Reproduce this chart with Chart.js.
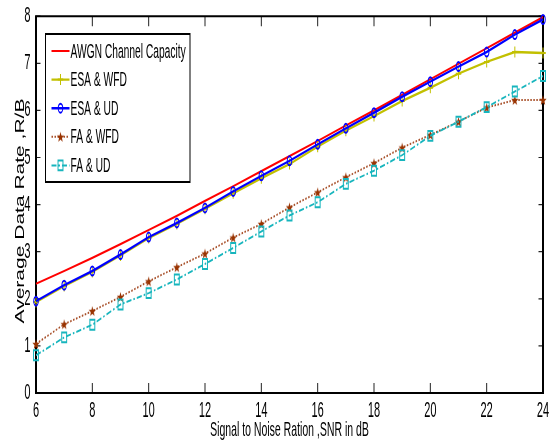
<!DOCTYPE html>
<html>
<head>
<meta charset="utf-8">
<title>Average Data Rate vs SNR</title>
<script src="https://cdn.jsdelivr.net/npm/chart.js@4.4.0/dist/chart.umd.min.js"></script>
<style>
  html, body { margin: 0; padding: 0; background: #fff; overflow: hidden; }
  #wrap { width: 557px; height: 445px; overflow: hidden; }
  /* the figure is drawn twice as wide and squeezed back, giving the narrow lettering */
  #chart { display: block; transform: scaleX(0.5); transform-origin: 0 0; }
</style>
</head>
<body>
<div id="wrap"><canvas id="chart" width="1114" height="445"></canvas></div>
<script>
  "use strict";

  const snrDb = [6, 7, 8, 9, 10, 11, 12, 13, 14, 15, 16, 17, 18, 19, 20, 21, 22, 23, 24];

  const awgnCapacity = [2.32, 2.59, 2.87, 3.16, 3.46, 3.76, 4.08, 4.39, 4.71, 5.03, 5.35, 5.68, 6.00, 6.33, 6.66, 6.99, 7.32, 7.65, 7.98];
  const esaWfd = [1.93, 2.27, 2.57, 2.92, 3.29, 3.59, 3.91, 4.24, 4.56, 4.86, 5.23, 5.57, 5.88, 6.20, 6.48, 6.78, 7.03, 7.24, 7.22];
  const esaUd = [1.95, 2.29, 2.59, 2.94, 3.31, 3.61, 3.93, 4.28, 4.61, 4.93, 5.28, 5.62, 5.95, 6.29, 6.61, 6.93, 7.24, 7.61, 7.93];
  const faWfd = [1.04, 1.46, 1.74, 2.04, 2.37, 2.67, 2.96, 3.30, 3.59, 3.94, 4.26, 4.58, 4.88, 5.21, 5.48, 5.76, 6.06, 6.22, 6.22];
  const faUd = [0.80, 1.18, 1.45, 1.88, 2.12, 2.41, 2.74, 3.08, 3.43, 3.77, 4.05, 4.44, 4.72, 5.05, 5.46, 5.76, 6.07, 6.40, 6.73];

  const seriesLabels = ["AWGN Channel Capacity", "ESA & WFD", "ESA & UD", "FA & WFD", "FA & UD"];
  const xTitle = "Signal to Noise Ration ,SNR in dB";
  const yTitle = "Average Data Rate ,R/B";

  const FONT = '"Liberation Sans", Arial, sans-serif';

  function pts(ys) {
    return snrDb.map((x, i) => ({ x, y: ys[i] }));
  }

  // filled five-pointed star used as the FA & WFD marker
  function starMarker(w, h, fill) {
    const c = document.createElement("canvas");
    c.width = w;
    c.height = h;
    const g = c.getContext("2d");
    const cx = w / 2, cy = h / 2 + 0.5;
    g.beginPath();
    for (let i = 0; i < 10; i++) {
      const k = i % 2 ? 0.42 : 1;
      const a = -Math.PI / 2 + (i * Math.PI) / 5;
      g.lineTo(cx + k * (w / 2 - 0.5) * Math.cos(a), cy + k * (h / 2 - 0.5) * Math.sin(a));
    }
    g.closePath();
    g.fillStyle = fill;
    g.fill();
    return c;
  }

  const NONE = "rgba(0,0,0,0)";

  const datasets = [
    {
      label: seriesLabels[0], data: pts(awgnCapacity), order: 5,
      borderColor: "#ff0000", borderWidth: 2.2, pointRadius: 0,
    },
    {
      label: seriesLabels[1], data: pts(esaWfd), order: 4,
      borderColor: "#c2c000", borderWidth: 2.4,
      pointStyle: "cross", pointRadius: 5.5, pointBorderWidth: 2,
      pointBorderColor: "#c2c000", pointBackgroundColor: NONE,
    },
    {
      label: seriesLabels[2], data: pts(esaUd), order: 3,
      borderColor: "#0000ff", borderWidth: 2.4,
      pointStyle: "circle", pointRadius: 4.5, pointBorderWidth: 2,
      pointBorderColor: "#0000ff", pointBackgroundColor: NONE,
    },
    {
      label: seriesLabels[3], data: pts(faWfd), order: 2,
      borderColor: "#a8502a", borderWidth: 2, borderDash: [3, 3],
      pointStyle: starMarker(16, 12, "#993300"), pointRadius: 6,
      pointBorderColor: "#993300", pointBackgroundColor: "#993300", pointBorderWidth: 0,
    },
    {
      label: seriesLabels[4], data: pts(faUd), order: 1,
      borderColor: "#17b5bd", borderWidth: 2, borderDash: [10, 4, 3, 4],
      pointStyle: "rect", pointRadius: 7, pointBorderWidth: 2,
      pointBorderColor: "#17b5bd", pointBackgroundColor: NONE,
    },
  ];

  // box frame with inward ticks on all four sides, plus the rotated y title
  const frame = {
    id: "frame",
    beforeDatasetsDraw(chart) {
      const { ctx, chartArea: a, scales } = chart;
      ctx.save();
      ctx.strokeStyle = "#222";
      ctx.lineWidth = 2;
      scales.x.ticks.forEach((t) => {
        const px = scales.x.getPixelForValue(t.value);
        ctx.beginPath();
        ctx.moveTo(px, a.bottom); ctx.lineTo(px, a.bottom - 10);
        ctx.moveTo(px, a.top); ctx.lineTo(px, a.top + 10);
        ctx.stroke();
      });
      ctx.lineWidth = 1.2;
      scales.y.ticks.forEach((t) => {
        const py = scales.y.getPixelForValue(t.value);
        ctx.beginPath();
        ctx.moveTo(a.left, py); ctx.lineTo(a.left + 9, py);
        ctx.moveTo(a.right, py); ctx.lineTo(a.right - 9, py);
        ctx.stroke();
      });
      ctx.strokeStyle = "#000";
      ctx.lineWidth = 2;
      ctx.beginPath();
      ctx.moveTo(a.left - 2, a.top); ctx.lineTo(a.right + 2, a.top);
      ctx.moveTo(a.left - 2, a.bottom); ctx.lineTo(a.right + 2, a.bottom);
      ctx.stroke();
      ctx.lineWidth = 4;
      ctx.beginPath();
      ctx.moveTo(a.left, a.top); ctx.lineTo(a.left, a.bottom);
      ctx.moveTo(a.right, a.top); ctx.lineTo(a.right, a.bottom);
      ctx.stroke();

      ctx.translate(41, 211);
      ctx.rotate(-Math.PI / 2);
      ctx.scale(1, 1.25);
      ctx.fillStyle = "#000";
      ctx.font = `21px ${FONT}`;
      ctx.textAlign = "center";
      ctx.textBaseline = "middle";
      ctx.fillText(yTitle, 0, 0);
      ctx.restore();
    },
  };

  // legend box in the upper left of the plot
  const insetLegend = {
    id: "insetLegend",
    afterDatasetsDraw(chart) {
      const ctx = chart.ctx;
      const box = { x: 91, y: 34, w: 289, h: 148 };
      ctx.save();
      ctx.fillStyle = "#fff";
      ctx.fillRect(box.x, box.y, box.w, box.h);
      ctx.strokeStyle = "#000";
      ctx.lineWidth = 2;
      ctx.strokeRect(box.x, box.y, box.w, box.h);

      chart.data.datasets.forEach((ds, i) => {
        const y = 51 + i * 28.6;
        ctx.strokeStyle = ds.borderColor;
        ctx.lineWidth = ds.borderWidth;
        ctx.setLineDash(ds.borderDash || []);
        ctx.beginPath();
        ctx.moveTo(103, y);
        ctx.lineTo(139, y);
        ctx.stroke();
        ctx.setLineDash([]);
        if (ds.pointRadius) {
          ctx.fillStyle = ds.pointBackgroundColor;
          ctx.strokeStyle = ds.pointBorderColor;
          ctx.lineWidth = ds.pointBorderWidth;
          Chart.helpers.drawPoint(ctx, {
            pointStyle: ds.pointStyle,
            radius: ds.pointRadius,
            borderWidth: ds.pointBorderWidth,
            rotation: 0,
          }, 121, y);
        }
        ctx.fillStyle = "#000";
        ctx.font = `20.5px ${FONT}`;
        ctx.textAlign = "left";
        ctx.textBaseline = "middle";
        ctx.fillText(ds.label, 141, y + 1);
      });
      ctx.restore();
    },
  };

  new Chart(document.getElementById("chart"), {
    type: "line",
    data: { datasets },
    options: {
      responsive: false,
      animation: false,
      devicePixelRatio: 1,
      layout: { padding: { top: 15, right: 28, left: 0, bottom: 0 } },
      elements: { line: { tension: 0 } },
      datasets: { line: { clip: false } },
      plugins: { legend: { display: false }, tooltip: { enabled: false } },
      scales: {
        x: {
          type: "linear",
          min: 6,
          max: 24,
          afterFit: (s) => { s.height = 52; },
          grid: { display: false },
          border: { display: false },
          ticks: { stepSize: 2, padding: -3, color: "#000", font: { family: FONT, size: 22 } },
          title: {
            display: true,
            text: xTitle,
            color: "#000",
            font: { family: FONT, size: 21 },
            padding: { top: 0, bottom: 2 },
          },
        },
        y: {
          min: 0,
          max: 8,
          afterFit: (s) => { s.width = 72; },
          grid: { display: false },
          border: { display: false },
          ticks: { stepSize: 1, padding: 3, color: "#000", font: { family: FONT, size: 22 } },
        },
      },
    },
    plugins: [frame, insetLegend],
  });
</script>
</body>
</html>
